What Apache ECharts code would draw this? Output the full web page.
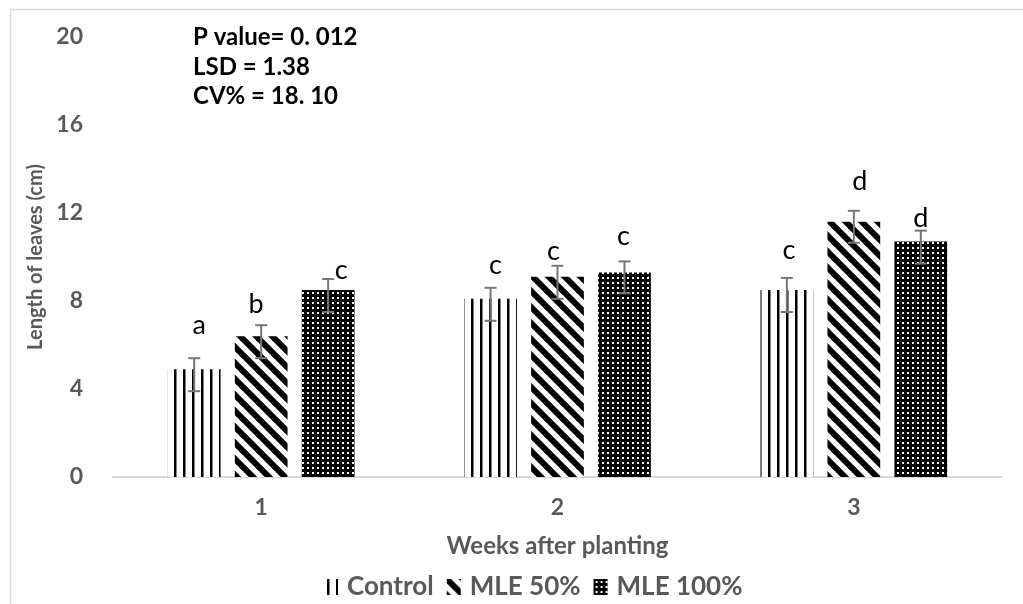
<!DOCTYPE html>
<html>
<head>
<meta charset="utf-8">
<script src="https://cdn.jsdelivr.net/npm/echarts@6/dist/echarts.min.js"></script>
<style>
  html, body { margin: 0; padding: 0; background: #ffffff; }
  #chart { width: 1023px; height: 604px; }
</style>
</head>
<body>
<div id="chart"></div>
<script>
// Leaf length (cm) by week after planting
const weeks = ['1', '2', '3'];
const seriesNames = ['Control', 'MLE 50%', 'MLE 100%'];

const controlLen = [4.9, 8.1, 8.5];
const mle50Len   = [6.4, 9.1, 11.6];
const mle100Len  = [8.5, 9.3, 10.7];

// error bar ends
const controlErrLow  = [3.9, 7.1, 7.5];
const controlErrHigh = [5.4, 8.6, 9.05];
const mle50ErrLow    = [5.4, 8.1, 10.65];
const mle50ErrHigh   = [6.9, 9.6, 12.1];
const mle100ErrLow   = [7.5, 8.35, 9.7];
const mle100ErrHigh  = [9.0, 9.8, 11.2];

// mean separation letters
const controlLetters = ['a', 'c', 'c'];
const mle50Letters   = ['b', 'c', 'd'];
const mle100Letters  = ['c', 'c', 'd'];

const yMin = 0, yMax = 20, yStep = 4;
const statsLines = ['P value= 0. 012', 'LSD = 1.38', 'CV% = 18. 10'];

const FONT = 'Lato, "Liberation Sans", sans-serif';
const GREY = '#595959';
const CAT_GAP = 0.37;
const BAR_GAP = 0.27;

function tile(w, h, draw) {
  const c = document.createElement('canvas');
  c.width = w; c.height = h;
  const ctx = c.getContext('2d');
  ctx.fillStyle = '#ffffff';
  ctx.fillRect(0, 0, w, h);
  ctx.fillStyle = '#000000';
  ctx.strokeStyle = '#000000';
  draw(ctx);
  return c;
}

// dark vertical lines
const vertTile = tile(9, 4, ctx => { ctx.fillRect(3, 0, 2.5, 4); });
// wide downward diagonal
const diagTile = tile(16, 16, ctx => {
  ctx.lineWidth = 6;
  ctx.lineCap = 'square';
  [-16, 0, 16].forEach(k => {
    ctx.beginPath();
    ctx.moveTo(k - 4, -4);
    ctx.lineTo(k + 20, 20);
    ctx.stroke();
  });
});
// dense dotted grid
const dotTile = tile(5, 5, ctx => {
  ctx.fillRect(0, 0, 5, 5);
  ctx.fillStyle = '#ffffff';
  ctx.fillRect(2, 2, 2, 2);
});

const fills = [
  { image: vertTile, repeat: 'repeat' },
  { image: diagTile, repeat: 'repeat' },
  { image: dotTile, repeat: 'repeat' }
];

const lengths = [controlLen, mle50Len, mle100Len];
const errLows = [controlErrLow, mle50ErrLow, mle100ErrLow];
const errHighs = [controlErrHigh, mle50ErrHigh, mle100ErrHigh];
const letters = [controlLetters, mle50Letters, mle100Letters];

// letter placement relative to the top of each error bar: [dx, gap]
const letterPlacement = [
  [[5, 25], [5, 15], [2, 20]],
  [[-5, 13], [-4, 7], [6, 22]],
  [[13, 1], [-1, 18], [0, 5]]
];

const barSeries = seriesNames.map((name, k) => ({
  type: 'bar',
  name: name,
  data: lengths[k],
  barCategoryGap: (CAT_GAP * 100) + '%',
  barGap: (BAR_GAP * 100) + '%',
  itemStyle: { color: fills[k] },
  emphasis: { disabled: true },
  z: 2
}));

const errorSeries = seriesNames.map((name, k) => ({
  type: 'custom',
  name: name + ' error',
  data: weeks.map((w, i) => [i, errLows[k][i], errHighs[k][i]]),
  encode: { x: 0, y: [1, 2] },
  z: 5,
  silent: true,
  renderItem(params, api) {
    const i = api.value(0);
    const band = api.size([1, 0])[0];
    const barW = band * (1 - CAT_GAP) / (3 + 2 * BAR_GAP);
    const x = api.coord([i, 0])[0] + (k - 1) * barW * (1 + BAR_GAP);
    const yLo = api.coord([i, api.value(1)])[1];
    const yHi = api.coord([i, api.value(2)])[1];
    const cap = 6;
    const st = { stroke: '#767676', lineWidth: 2 };
    const place = letterPlacement[k][i];
    return {
      type: 'group',
      children: [
        { type: 'line', shape: { x1: x, y1: yLo, x2: x, y2: yHi }, style: st },
        { type: 'line', shape: { x1: x - cap, y1: yLo, x2: x + cap, y2: yLo }, style: st },
        { type: 'line', shape: { x1: x - cap, y1: yHi, x2: x + cap, y2: yHi }, style: st },
        {
          type: 'text',
          x: x + place[0],
          y: yHi - place[1] + 6,
          style: {
            text: letters[k][i],
            fill: '#000000',
            font: 'normal 27px ' + FONT,
            textAlign: 'center',
            textVerticalAlign: 'bottom'
          }
        }
      ]
    };
  }
}));

const chart = echarts.init(document.getElementById('chart'), null, { renderer: 'canvas' });

chart.setOption({
  animation: false,
  backgroundColor: '#ffffff',
  textStyle: { fontFamily: FONT },
  grid: { left: 113, right: 21, top: 37, bottom: 127, containLabel: false, outerBoundsMode: 'none' },
  legend: {
    data: seriesNames,
    left: 319,
    top: 569,
    icon: 'rect',
    itemWidth: 14,
    itemHeight: 16,
    itemGap: 13,
    selectedMode: false,
    textStyle: { color: GREY, fontSize: 26, fontWeight: 'bold', fontFamily: FONT, padding: [0, 0, 0, 4] }
  },
  xAxis: {
    type: 'category',
    data: weeks,
    axisLine: { lineStyle: { color: '#d9d9d9', width: 2 } },
    axisTick: { show: false },
    axisLabel: { color: GREY, fontSize: 23, fontWeight: 'bold', fontFamily: FONT, margin: 19 },
    name: 'Weeks after planting',
    nameLocation: 'middle',
    nameGap: 57,
    nameTextStyle: { color: GREY, fontSize: 24, fontWeight: 'bold', fontFamily: FONT }
  },
  yAxis: {
    type: 'value',
    min: yMin,
    max: yMax,
    interval: yStep,
    axisLine: { show: false },
    axisTick: { show: false },
    splitLine: { show: false },
    axisLabel: { color: GREY, fontSize: 23, fontWeight: 'bold', fontFamily: FONT, margin: 30 },
    name: 'Length of leaves (cm)',
    nameLocation: 'middle',
    nameGap: 65,
    nameTextStyle: { color: GREY, fontSize: 20, fontWeight: 'bold', fontFamily: FONT }
  },
  graphic: [
    {
      type: 'rect',
      z: -1,
      silent: true,
      shape: { x: 10.5, y: 9.5, width: 1100, height: 700 },
      style: { fill: null, stroke: '#d9d9d9', lineWidth: 1.5 }
    },
    {
      type: 'text',
      left: 193,
      top: 23,
      silent: true,
      style: {
        text: statsLines.join('\n'),
        fill: '#000000',
        font: 'bold 24px ' + FONT,
        lineHeight: 29.5
      }
    }
  ],
  series: barSeries.concat(errorSeries)
});
</script>
</body>
</html>
